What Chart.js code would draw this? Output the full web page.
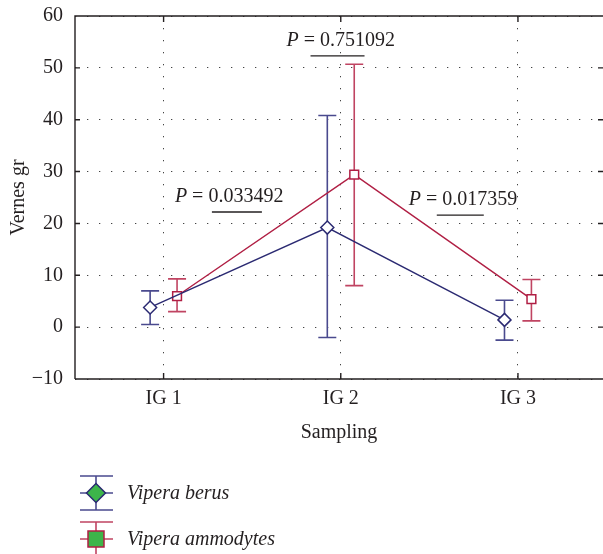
<!DOCTYPE html>
<html>
<head>
<meta charset="utf-8">
<script src="https://cdn.jsdelivr.net/npm/chart.js@4.4.1/dist/chart.umd.min.js"></script>
<style>
    html, body { margin: 0; padding: 0; background: #fff; }
    #wrap { width: 603px; height: 554px; }
</style>
</head>
<body>
<div id="wrap"><canvas id="VipersChart"></canvas></div>
<script>
var categories = ["IG 1", "IG 2", "IG 3"];
var berusMean = [3.8, 19.2, 1.4];
var berusLow = [0.5, -2.0, -2.5];
var berusHigh = [7.0, 40.8, 5.2];
var ammodytesMean = [6.0, 29.4, 5.4];
var ammodytesLow = [3.0, 8.0, 1.2];
var ammodytesHigh = [9.3, 50.7, 9.2];
var yTicks = [-10, 0, 10, 20, 30, 40, 50, 60];
var pLabels = ["P = 0.033492", "P = 0.751092", "P = 0.017359"];
// where each P label sits (x in category units, y in data units)
var pAnchorX = [1.37, 2.0, 2.69];
var pAnchorY = [25.1, 55.2, 24.5];

var SERIF = "'Liberation Serif', 'Times New Roman', serif";
var INK = "#231f20";
var OFFSET = 0.076;
// underline start / end, px from the start of each P label
var barFrom = [37, 24, 28];
var barTo = [87, 78, 75];

function points(mean, shift) {
    return mean.map(function (v, i) { return { x: i + 1 + shift, y: v }; });
}

// error bars behind the markers
var errorBars = {
    id: "errorBars",
    beforeDatasetsDraw: function (chart) {
        var ctx = chart.ctx, xs = chart.scales.x, ys = chart.scales.y;
        chart.data.datasets.forEach(function (ds) {
            ctx.save();
            ctx.strokeStyle = ds.barColor;
            ctx.lineWidth = 1.6;
            ds.data.forEach(function (p, i) {
                var x = xs.getPixelForValue(p.x);
                var top = ys.getPixelForValue(ds.high[i]);
                var bot = ys.getPixelForValue(ds.low[i]);
                ctx.beginPath();
                ctx.moveTo(x, top); ctx.lineTo(x, bot);
                ctx.moveTo(x - 9, top); ctx.lineTo(x + 9, top);
                ctx.moveTo(x - 9, bot); ctx.lineTo(x + 9, bot);
                ctx.stroke();
            });
            ctx.restore();
        });
    }
};

// frame with inward ticks on all sides
var frame = {
    id: "frame",
    beforeDatasetsDraw: function (chart) {
        var ctx = chart.ctx, a = chart.chartArea, xs = chart.scales.x, ys = chart.scales.y;
        ctx.save();
        ctx.strokeStyle = INK;
        ctx.lineWidth = 1.4;
        ctx.beginPath();
        ctx.moveTo(a.left, a.bottom); ctx.lineTo(a.left, a.top); ctx.lineTo(a.right, a.top);
        ctx.moveTo(a.left, a.bottom); ctx.lineTo(a.right, a.bottom);
        ys.ticks.forEach(function (t) {
            var y = ys.getPixelForValue(t.value);
            ctx.moveTo(a.left, y); ctx.lineTo(a.left + 5, y);
            ctx.moveTo(a.right, y); ctx.lineTo(a.right - 5, y);
        });
        xs.ticks.forEach(function (t) {
            var x = xs.getPixelForValue(t.value);
            ctx.moveTo(x, a.bottom); ctx.lineTo(x, a.bottom - 6);
            ctx.moveTo(x, a.top); ctx.lineTo(x, a.top + 6);
        });
        ctx.stroke();
        ctx.restore();
    }
};

// P value labels with their bars
var pValues = {
    id: "pValues",
    afterDatasetsDraw: function (chart) {
        var ctx = chart.ctx, xs = chart.scales.x, ys = chart.scales.y;
        ctx.save();
        ctx.fillStyle = INK;
        ctx.strokeStyle = INK;
        ctx.lineWidth = 1.4;
        ctx.textBaseline = "middle";
        pLabels.forEach(function (txt, i) {
            var cx = xs.getPixelForValue(pAnchorX[i]);
            var cy = ys.getPixelForValue(pAnchorY[i]);
            var parts = txt.split(" ");
            ctx.font = "italic 20px " + SERIF;
            var wP = ctx.measureText("P").width;
            ctx.font = "20px " + SERIF;
            var rest = " " + parts.slice(1).join(" ");
            var wR = ctx.measureText(rest).width;
            var x0 = cx - (wP + wR) / 2;
            ctx.font = "italic 20px " + SERIF;
            ctx.textAlign = "left";
            ctx.fillText("P", x0, cy);
            ctx.font = "20px " + SERIF;
            ctx.fillText(rest, x0 + wP, cy);
            ctx.beginPath();
            ctx.moveTo(x0 + barFrom[i], cy + 15);
            ctx.lineTo(x0 + barTo[i], cy + 15);
            ctx.stroke();
        });
        ctx.restore();
    }
};

// legend drawn below the chart
var legendBox = {
    id: "legendBox",
    afterDraw: function (chart) {
        var ctx = chart.ctx;
        chart.data.datasets.forEach(function (ds, i) {
            var cy = 493 + i * 46, cx = 96;
            ctx.save();
            ctx.strokeStyle = ds.barColor;
            ctx.lineWidth = 1.6;
            ctx.beginPath();
            ctx.moveTo(80, cy - 17); ctx.lineTo(113, cy - 17);
            ctx.moveTo(80, cy + 17); ctx.lineTo(113, cy + 17);
            ctx.moveTo(80, cy); ctx.lineTo(113, cy);
            ctx.moveTo(cx, cy - 17); ctx.lineTo(cx, cy + 17);
            ctx.stroke();
            ctx.fillStyle = "#3db54a";
            ctx.strokeStyle = ds.borderColor;
            ctx.lineWidth = 1.5;
            ctx.beginPath();
            if (ds.pointStyle === "rectRot") {
                ctx.moveTo(cx - 9.5, cy); ctx.lineTo(cx, cy - 9.5);
                ctx.lineTo(cx + 9.5, cy); ctx.lineTo(cx, cy + 9.5);
                ctx.closePath();
            } else {
                ctx.rect(cx - 8, cy - 8, 16, 16);
            }
            ctx.fill();
            ctx.stroke();
            ctx.fillStyle = INK;
            ctx.font = "italic 20px " + SERIF;
            ctx.textBaseline = "middle";
            ctx.fillText(ds.label, 127, cy + 1);
            ctx.restore();
        });
    }
};

var sample = document.getElementById("VipersChart");
new Chart(sample, {
    type: "line",
    data: {
        datasets: [
            {
                label: "Vipera berus",
                data: points(berusMean, -OFFSET),
                low: berusLow,
                high: berusHigh,
                borderColor: "#2b2a72",
                barColor: "#4a4a8e",
                backgroundColor: "#ffffff",
                borderWidth: 1.4,
                pointStyle: "rectRot",
                pointRadius: 6.5,
                pointBorderWidth: 1.5,
                pointBackgroundColor: "#ffffff",
            },
            {
                label: "Vipera ammodytes",
                data: points(ammodytesMean, OFFSET),
                low: ammodytesLow,
                high: ammodytesHigh,
                borderColor: "#b01f44",
                barColor: "#c04462",
                backgroundColor: "#ffffff",
                borderWidth: 1.4,
                pointStyle: "rect",
                pointRadius: 6.2,
                pointBorderWidth: 1.5,
                pointBackgroundColor: "#ffffff",
            },
        ],
    },
    options: {
        responsive: true,
        maintainAspectRatio: false,
        animation: false,
        layout: { autoPadding: false, padding: { top: 16, right: 0, bottom: 0, left: 0 } },
        plugins: {
            legend: { display: false },
            tooltip: { enabled: false },
        },
        scales: {
            x: {
                type: "linear",
                min: 0.5,
                max: 3.48,
                afterBuildTicks: function (scale) {
                    scale.ticks = categories.map(function (c, i) { return { value: i + 1 }; });
                },
                afterFit: function (scale) {
                    scale.height = 175;
                    scale.paddingLeft = 0;
                    scale.paddingRight = 0;
                },
                ticks: {
                    padding: 8,
                    color: INK,
                    font: { family: SERIF, size: 20 },
                    callback: function (v) { return categories[v - 1]; },
                },
                grid: { color: "#444", lineWidth: 1, drawTicks: false },
                border: { display: false, dash: [1.3, 10.7] },
                title: {
                    display: true,
                    text: "Sampling",
                    color: INK,
                    font: { family: SERIF, size: 20 },
                    padding: { top: 0, bottom: 109 },
                },
            },
            y: {
                min: -10,
                max: 60,
                afterBuildTicks: function (scale) {
                    scale.ticks = yTicks.map(function (v) { return { value: v }; });
                },
                afterFit: function (scale) {
                    scale.width = 75;
                    scale.paddingTop = 0;
                    scale.paddingBottom = 0;
                },
                ticks: {
                    padding: 12,
                    color: INK,
                    font: { family: SERIF, size: 20 },
                    callback: function (v) { return String(v).replace("-", "\u2212"); },
                },
                grid: { color: "#444", lineWidth: 1, drawTicks: false },
                border: { display: false, dash: [1.3, 10.7] },
                title: {
                    display: true,
                    text: "Vernes gr",
                    color: INK,
                    font: { family: SERIF, size: 20 },
                    padding: { top: 7, bottom: 0 },
                },
            },
        },
    },
    plugins: [errorBars, frame, pValues, legendBox],
});
</script>
</body>
</html>
